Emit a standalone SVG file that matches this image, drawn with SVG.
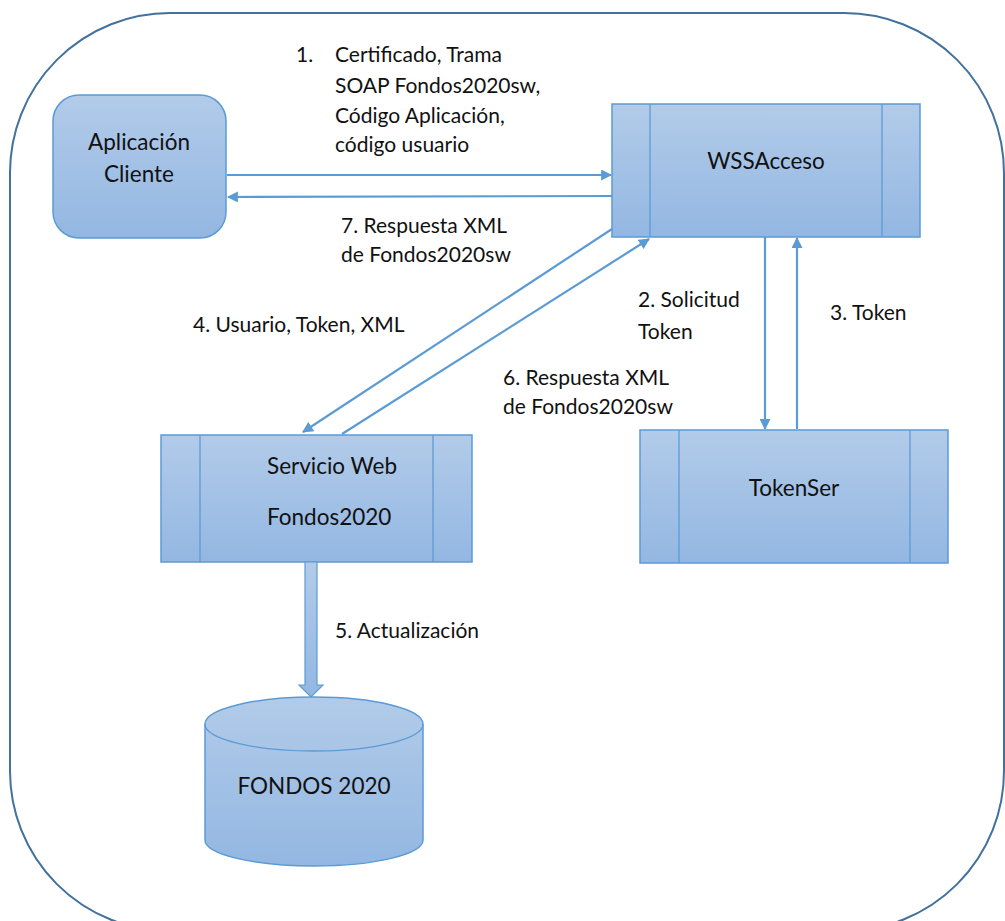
<svg xmlns="http://www.w3.org/2000/svg" width="1005" height="921" viewBox="0 0 1005 921">
<defs>
<linearGradient id="g" x1="0" y1="0" x2="0" y2="1">
<stop offset="0" stop-color="#b2cbe9"/>
<stop offset="1" stop-color="#93b7e2"/>
</linearGradient>
<marker id="ah" viewBox="0 0 10 10" refX="9" refY="5" markerWidth="5.5" markerHeight="5" orient="auto" markerUnits="strokeWidth">
<path d="M0,0 L10,5 L0,10 z" fill="#5b9bd5"/>
</marker>
<style>
.shape{fill:url(#g);stroke:#5b9bd5;stroke-width:1.5}
.div{stroke:#5b9bd5;stroke-width:1.3;fill:none}
.t{font-family:Lato,"Open Sans","Liberation Sans",sans-serif;font-size:21px;fill:#111111}
.n{font-size:22.5px}
.c{text-anchor:middle}
.conn{stroke:#5b9bd5;stroke-width:2.2;fill:none;marker-end:url(#ah)}
</style>
</defs>
<rect x="0" y="0" width="1005" height="921" fill="#ffffff"/>
<rect id="frame" x="10" y="13" width="994" height="918" rx="160" ry="160" fill="none" stroke="#41719c" stroke-width="2"/>

<g id="aplicacion">
<rect class="shape" x="53" y="95" width="173" height="143" rx="26" ry="26"/>
<text class="t n c" x="139" y="150">Aplicación</text>
<text class="t n c" x="139" y="182">Cliente</text>
</g>

<g id="wssacceso">
<rect class="shape" x="612" y="104" width="308" height="133"/>
<line class="div" x1="650" y1="104" x2="650" y2="237"/>
<line class="div" x1="882" y1="104" x2="882" y2="237"/>
<text class="t n c" x="766" y="169">WSSAcceso</text>
</g>

<g id="servicio">
<rect class="shape" x="161" y="435" width="311" height="127"/>
<line class="div" x1="200" y1="435" x2="200" y2="562"/>
<line class="div" x1="433" y1="435" x2="433" y2="562"/>
<text class="t n" x="267" y="474">Servicio Web</text>
<text class="t n" x="267" y="525">Fondos2020</text>
</g>

<g id="tokenser">
<rect class="shape" x="640" y="430" width="308" height="133"/>
<line class="div" x1="679" y1="430" x2="679" y2="563"/>
<line class="div" x1="910" y1="430" x2="910" y2="563"/>
<text class="t n c" x="794" y="496">TokenSer</text>
</g>

<g id="fondos">
<path class="shape" d="M205,724 L205,840 A109,26 0 0 0 423,840 L423,724 A109,27 0 0 0 205,724 Z"/>
<path class="div" d="M205,724 A109,27 0 0 0 423,724"/>
<text class="t n c" x="314" y="794">FONDOS 2020</text>
</g>

<g id="connectors">
<line class="conn" x1="227" y1="175" x2="611" y2="175"/>
<line class="conn" x1="612" y1="196" x2="228" y2="197"/>
<line class="conn" x1="612" y1="229" x2="303" y2="432"/>
<line class="conn" x1="342" y1="434" x2="649" y2="239"/>
<line class="conn" x1="765" y1="237" x2="765" y2="429"/>
<line class="conn" x1="797" y1="429" x2="797" y2="238"/>
<path d="M305,562 L317,562 L317,685 L323,685 L311,697 L299,685 L305,685 Z" fill="url(#g)" stroke="#5b9bd5" stroke-width="1.2"/>
</g>

<g id="labels">
<text class="t" x="296" y="62">1.</text>
<text class="t" x="335" y="62">Certificado, Trama</text>
<text class="t" x="335" y="93">SOAP Fondos2020sw,</text>
<text class="t" x="335" y="123">Código Aplicación,</text>
<text class="t" x="335" y="152">código usuario</text>
<text class="t" x="341" y="233">7. Respuesta XML</text>
<text class="t" x="341" y="262">de Fondos2020sw</text>
<text class="t" x="193" y="332">4. Usuario, Token, XML</text>
<text class="t" x="638" y="307">2. Solicitud</text>
<text class="t" x="638" y="339">Token</text>
<text class="t" x="830" y="320">3. Token</text>
<text class="t" x="503" y="385">6. Respuesta XML</text>
<text class="t" x="503" y="414">de Fondos2020sw</text>
<text class="t" x="335" y="638">5. Actualización</text>
</g>
</svg>
